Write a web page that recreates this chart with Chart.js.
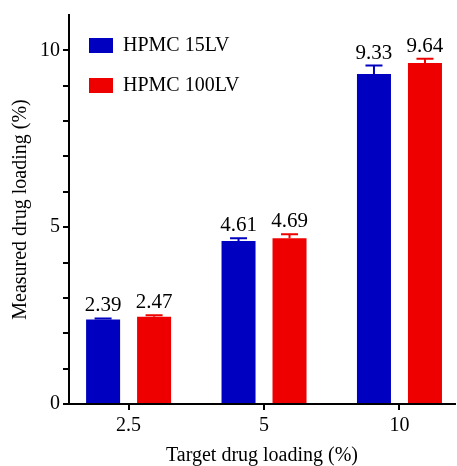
<!DOCTYPE html>
<html>
<head>
<meta charset="utf-8">
<script src="https://cdn.jsdelivr.net/npm/chart.js@4/dist/chart.umd.min.js"></script>
<style>
  html, body { margin: 0; padding: 0; background: #fff; }
</style>
</head>
<body>
<canvas id="chart" width="457" height="466"></canvas>
<script>
// data
const categories = ["2.5", "5", "10"];
const hpmc15 = [2.39, 4.61, 9.33];
const hpmc15Err = [0.03, 0.08, 0.24];
const hpmc100 = [2.47, 4.69, 9.64];
const hpmc100Err = [0.04, 0.11, 0.12];
const yTicks = [0, 1, 2, 3, 4, 5, 6, 7, 8, 9, 10];
const yLabelled = [0, 5, 10];

const serif = '"Liberation Serif", "Times New Roman", serif';
Chart.defaults.font.family = serif;
Chart.defaults.color = "#000";

// error bars (upper only) + value labels above each bar
const errorBars = {
  id: "errorBars",
  afterDatasetsDraw(chart) {
    const ctx = chart.ctx;
    const yScale = chart.scales.y;
    chart.data.datasets.forEach((ds, di) => {
      const meta = chart.getDatasetMeta(di);
      meta.data.forEach((bar, i) => {
        const v = ds.data[i].y;
        const top = yScale.getPixelForValue(v + ds.errors[i]);
        ctx.save();
        ctx.strokeStyle = ds.backgroundColor;
        ctx.lineWidth = 2;
        ctx.beginPath();
        ctx.moveTo(bar.x, bar.y);
        ctx.lineTo(bar.x, top);
        ctx.moveTo(bar.x - 8.5, top);
        ctx.lineTo(bar.x + 8.5, top);
        ctx.stroke();
        ctx.fillStyle = "#000";
        ctx.font = "21px " + serif;
        ctx.textAlign = "center";
        ctx.textBaseline = "alphabetic";
        ctx.fillText(v.toFixed(2), bar.x, top - 7);
        ctx.restore();
      });
    });
  }
};

// vertical legends get top = 0 after layout; drop it into the plot corner
const legendNudge = {
  id: "legendNudge",
  afterLayout(chart) {
    if (!chart.legend) return;
    chart.legend.top += 15.5;
  }
};

new Chart(document.getElementById("chart").getContext("2d"), {
  type: "bar",
  data: {
    datasets: [
      {
        label: "HPMC 15LV",
        data: categories.map((c, i) => ({ x: i, y: hpmc15[i] })),
        errors: hpmc15Err,
        backgroundColor: "#0000c0",
        borderWidth: 0,
        categoryPercentage: 0.753,
        barPercentage: 0.667
      },
      {
        label: "HPMC 100LV",
        data: categories.map((c, i) => ({ x: i, y: hpmc100[i] })),
        errors: hpmc100Err,
        backgroundColor: "#ee0000",
        borderWidth: 0,
        categoryPercentage: 0.753,
        barPercentage: 0.667
      }
    ]
  },
  options: {
    responsive: false,
    animation: false,
    layout: { padding: { top: 14, right: 2, left: 0, bottom: 0 } },
    plugins: {
      tooltip: { enabled: false },
      legend: {
        position: "chartArea",
        align: "start",
        labels: {
          boxWidth: 24,
          boxHeight: 15,
          padding: 20,
          color: "#000",
          font: { size: 20 }
        }
      }
    },
    scales: {
      x: {
        type: "linear",
        min: -0.44,
        max: 2.41,
        offset: false,
        afterBuildTicks: (s) => { s.ticks = categories.map((c, i) => ({ value: i })); },
        afterFit: (s) => { s.height = 62; },
        border: { color: "#000", width: 2 },
        grid: { offset: false, drawOnChartArea: false, color: "#000", lineWidth: 2, tickLength: 6 },
        ticks: {
          autoSkip: false,
          maxRotation: 0,
          padding: 4,
          font: { size: 20 },
          callback: (v) => categories[v]
        },
        title: {
          display: true,
          text: "Target drug loading (%)",
          font: { size: 20, lineHeight: 1 },
          padding: { top: 0, bottom: 0 }
        }
      },
      y: {
        min: 0,
        max: 11,
        afterBuildTicks: (s) => { s.ticks = yTicks.map((v) => ({ value: v })); },
        afterFit: (s) => { s.width = 69; },
        border: { color: "#000", width: 2 },
        grid: { drawOnChartArea: false, color: "#000", lineWidth: 2, tickLength: 6 },
        ticks: {
          autoSkip: false,
          padding: 3,
          font: { size: 20 },
          callback: (v) => (yLabelled.includes(v) ? v : "")
        },
        title: {
          display: true,
          text: "Measured drug loading (%)",
          font: { size: 20 },
          padding: { top: 9, bottom: 0 }
        }
      }
    }
  },
  plugins: [errorBars, legendNudge]
});
</script>
</body>
</html>
